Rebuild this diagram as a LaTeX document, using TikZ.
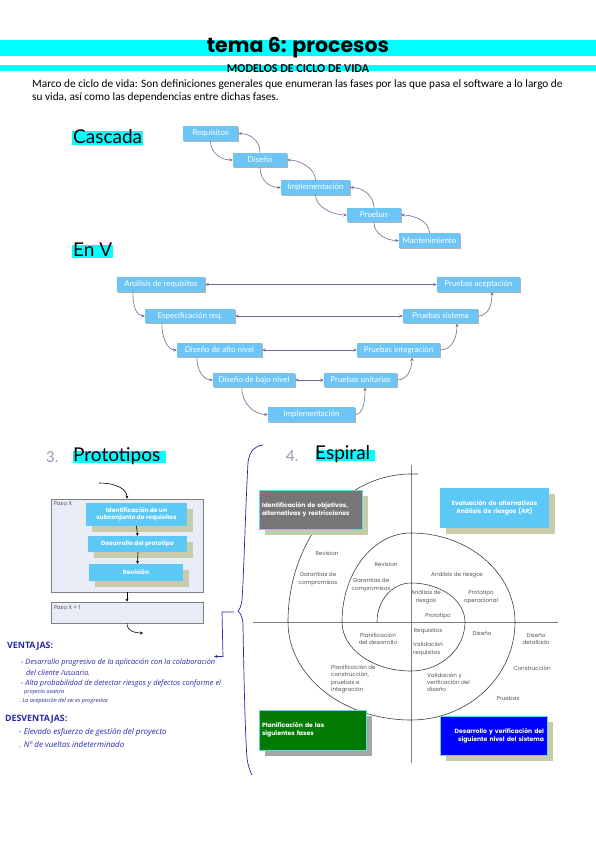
\documentclass[tikz,border=0pt]{standalone}
\usepackage{fontspec}
\setmainfont{Carlito}
\newfontfamily\gill{Lato}
\newfontfamily\titlef{Poppins}
\newfontfamily\gothic{Poppins}
\newfontfamily\hand{Open Sans}
\usetikzlibrary{arrows.meta,shadows}
\definecolor{hlcyan}{RGB}{0,255,255}
\definecolor{boxblue}{RGB}{108,197,244}
\definecolor{arrowc}{RGB}{105,110,150}
\definecolor{protblue}{RGB}{92,200,246}
\definecolor{khaki}{RGB}{200,202,170}
\definecolor{pasofill}{RGB}{231,236,246}
\definecolor{pasoborder}{RGB}{128,128,128}
\definecolor{spgray}{RGB}{118,118,118}
\definecolor{spborder}{RGB}{100,215,225}
\definecolor{spgreen}{RGB}{3,122,3}
\definecolor{spblue}{RGB}{0,0,255}
\definecolor{labgray}{RGB}{85,85,85}
\definecolor{numgray}{RGB}{140,155,175}
\definecolor{handblue}{RGB}{40,40,170}
\definecolor{axisgray}{RGB}{125,125,125}
\tikzset{
 casbox/.style={fill=boxblue, text=white, font=\gill\fontsize{8}{9}\selectfont, inner sep=0pt, minimum height=14.5pt,
   drop shadow={shadow xshift=1pt,shadow yshift=-1.2pt,fill=black,opacity=.3}},
 arr/.style={draw=arrowc, line width=0.6pt, -{Stealth[length=3.5pt,width=3pt]}},
 darr/.style={draw=arrowc, line width=0.6pt, {Stealth[length=3.5pt,width=3pt]}-{Stealth[length=3.5pt,width=3pt]}},
 seclab/.style={font=\gill\fontsize{19}{22}\selectfont, anchor=base west, inner sep=0pt},
 numlab/.style={font=\gill\fontsize{15}{18}\selectfont, text=numgray, anchor=base west, inner sep=0pt},
 protbox/.style={fill=protblue, text=white, font=\gothic\bfseries\fontsize{6}{7.5}\selectfont, align=center, inner sep=0pt,
   drop shadow={shadow xshift=6pt, shadow yshift=-6pt, fill=khaki, opacity=1}},
 pasobox/.style={draw=pasoborder, fill=pasofill, line width=0.8pt, inner sep=0pt},
 pasolab/.style={font=\gothic\fontsize{5.5}{7}\selectfont, text=labgray, anchor=north west, inner sep=0pt},
 parr/.style={draw=black, line width=0.6pt, -{Stealth[length=3pt,width=3pt]}},
 spbox/.style={text=white, font=\gothic\bfseries\fontsize{6.1}{8}\selectfont, inner sep=3pt, line width=0.8pt},
 slab/.style={font=\gothic\fontsize{5.6}{7.2}\selectfont, text=labgray, inner sep=0pt, align=center},
 axisline/.style={draw=axisgray, line width=0.9pt},
 spir/.style={draw=black!75, line width=0.6pt},
 hand/.style={font=\hand\itshape\fontsize{7.4}{8.5}\selectfont, text=handblue, anchor=west, inner sep=0pt},
 handhead/.style={font=\hand\bfseries\fontsize{8.8}{10}\selectfont, text=handblue, anchor=west, inner sep=0pt},
 handline/.style={draw=handblue, line width=0.7pt},
}
\begin{document}
\begin{tikzpicture}[x=1pt,y=-1pt]
\useasboundingbox (0,0) rectangle (596,848);
\fill[white] (0,0) rectangle (596,848);

% ---------- header ----------
\fill[hlcyan] (0,40.5) rectangle (596,56.5);
\fill[hlcyan] (0,65) rectangle (596,71.5);
\node[font=\titlef\bfseries\fontsize{20.5}{22}\selectfont, inner sep=0pt] (title) at (298,48) {tema 6: procesos};
\node[font=\bfseries\fontsize{12}{14}\selectfont, inner sep=0pt] (subtitle) at (298,68.5) {MODELOS DE CICLO DE VIDA};
\node[anchor=base west, inner sep=0pt, font=\fontsize{11.3}{13}\selectfont] (intro1) at (32,87.5)
  {Marco de ciclo de vida: Son definiciones generales que enumeran las fases por las que pasa el software a lo largo de};
\node[anchor=base west, inner sep=0pt, font=\fontsize{11.3}{13}\selectfont] (intro2) at (32,101)
  {su vida, así como las dependencias entre dichas fases.};

% ---------- Cascada ----------
\fill[hlcyan] (72,131) rectangle (143,145);
\node[seclab] (lcas) at (73,143) {Cascada};

\node[casbox, minimum width=55pt] (req) at (210.5,133.5) {Requisitos};
\node[casbox, minimum width=54pt] (dis) at (260,160) {Diseño};
\node[casbox, minimum width=69pt] (imp) at (315.5,187.5) {Implementación};
\node[casbox, minimum width=54pt] (pru) at (374,215) {Pruebas};
\node[casbox, minimum width=61pt] (man) at (429.5,240.5) {Mantenimiento};

\draw[arr] (req.south) .. controls +(0,12) and +(-12,0) .. (dis.west);
\draw[arr] (dis.north) .. controls +(0,-12) and +(12,0) .. (req.east);
\draw[arr] (dis.south) .. controls +(0,12) and +(-12,0) .. (imp.west);
\draw[arr] (imp.north) .. controls +(0,-12) and +(12,0) .. (dis.east);
\draw[arr] (imp.south) .. controls +(0,12) and +(-14,0) .. (pru.west);
\draw[arr] (pru.north) .. controls +(0,-12) and +(12,0) .. (imp.east);
\draw[arr] (pru.south) .. controls +(0,12) and +(-12,0) .. (man.west);
\draw[arr] (man.north) .. controls +(0,-12) and +(12,0) .. (pru.east);

% ---------- En V ----------
\fill[hlcyan] (72,245) rectangle (113,258);
\node[seclab] (lenv) at (73,256) {En V};

\node[casbox, minimum width=88pt] (ana) at (161,284.5) {Análisis de requisitos};
\node[casbox, minimum width=83pt] (pac) at (478.5,284.5) {Pruebas aceptación};
\node[casbox, minimum width=90pt] (esp) at (190,316) {Especificación req.};
\node[casbox, minimum width=75pt] (psi) at (440.5,316) {Pruebas sistema};
\node[casbox, minimum width=85pt] (dal) at (219.5,350) {Diseño de alto nivel};
\node[casbox, minimum width=83pt] (pin) at (398.5,350) {Pruebas integración};
\node[casbox, minimum width=82pt] (dba) at (254,380) {Diseño de bajo nivel};
\node[casbox, minimum width=73pt] (pun) at (360.5,380) {Pruebas unitarias};
\node[casbox, minimum width=87pt] (vim) at (311.5,414.5) {Implementación};

\draw[darr] (ana.east) -- (pac.west);
\draw[darr] (esp.east) -- (psi.west);
\draw[darr] (dal.east) -- (pin.west);
\draw[darr] (dba.east) -- (pun.west);

\draw[arr] ([xshift=16pt]ana.south west) .. controls +(0,15) and +(-8,0) .. (esp.west);
\draw[arr] ([xshift=17pt]esp.south west) .. controls +(0,15) and +(-9,0) .. (dal.west);
\draw[arr] ([xshift=20pt]dal.south west) .. controls +(0,13) and +(-9,0) .. (dba.west);
\draw[arr] ([xshift=29pt]dba.south west) .. controls +(0,16) and +(-14,0) .. (vim.west);
\draw[arr] (vim.east) .. controls +(8,0) and +(0,14) .. ([xshift=4.5pt]pun.south);
\draw[arr] (pun.east) .. controls +(10,0) and +(0,12) .. ([xshift=13.5pt]pin.south);
\draw[arr] (pin.east) .. controls +(12,0) and +(0,14) .. ([xshift=16.5pt]psi.south);
\draw[arr] (psi.east) .. controls +(10,0) and +(0,13) .. ([xshift=13.5pt]pac.south);

% ---------- Prototipos ----------
\node[numlab] (n3) at (46,462) {3.};
\fill[hlcyan] (73,451) rectangle (166,463);
\node[seclab] (lprot) at (73,461) {Prototipos};

\node[pasobox, minimum width=152pt, minimum height=93pt] (pasox) at (127,545.5) {};
\node[pasolab] (pasoxl) at ([shift={(3,3)}]pasox.north west) {Paso X};
\node[pasobox, minimum width=152pt, minimum height=21pt] (pasox1) at (127,612.5) {};
\node[pasolab] (pasox1l) at ([shift={(3,4)}]pasox1.north west) {Paso X + 1};

\node[protbox, minimum width=101pt, minimum height=23pt] (pb1) at (136.5,514.5) {Identificación de un\\subconjunto de requisitos};
\node[protbox, minimum width=99pt, minimum height=16pt] (pb2) at (137.5,544) {Desarrollo del prototipo};
\node[protbox, minimum width=94pt, minimum height=17pt] (pb3) at (136,572.5) {Revisión};

\draw[parr] (pb1.south) -- (pb2.north);
\draw[parr] ([xshift=0.5pt]pb2.south) -- ([xshift=1.5pt]pb3.north);
\draw[parr] (pasox.south) -- (pasox1.north);
\coordinate (pin0) at (99,483);
\coordinate (pout) at (143,633);
\draw[parr] (pin0) .. controls +(18,0) and +(0,-9) .. (pasox.north);
\draw[parr] (pasox1.south) .. controls +(0,8) and +(-8,0) .. (pout);

% ---------- Espiral ----------
\node[numlab] (n4) at (286,461) {4.};
\fill[hlcyan] (316,450) rectangle (375,461);
\node[seclab] (lesp) at (315,459) {Espiral};

\draw[axisline] (411,465) -- (411,763);
\draw[axisline] (253,622) -- (558,622);

\draw[spir] (418,474) -- (411,474)
  arc[start angle=270, end angle=180, x radius=123, y radius=148]
  arc[start angle=180, end angle=90, x radius=123, y radius=98]
  arc[start angle=90, end angle=0, x radius=104, y radius=98]
  arc[start angle=360, end angle=270, x radius=104, y radius=89]
  arc[start angle=270, end angle=180, x radius=69, y radius=89]
  arc[start angle=180, end angle=90, x radius=69, y radius=49]
  arc[start angle=90, end angle=0, x radius=54, y radius=49]
  arc[start angle=360, end angle=270, x radius=54, y radius=39]
  arc[start angle=270, end angle=180, x radius=34, y radius=39];

\node[spbox, fill=spgray, draw=spborder, minimum width=103pt, minimum height=39pt, text width=97pt, align=left,
  drop shadow={shadow xshift=6pt, shadow yshift=-6pt, fill=khaki, opacity=1}] (sq1) at (310.5,509.5)
  {Identificación de objetivos,\\alternativas y restricciones};
\node[spbox, fill=protblue, minimum width=109pt, minimum height=40pt, text width=103pt, align=center,
  drop shadow={shadow xshift=6pt, shadow yshift=-6pt, fill=khaki, opacity=1}] (sq2) at (494.5,508)
  {Evaluación de alternativas\\Análisis de riesgos (AR)};
\node[spbox, fill=spgreen, draw=spborder, minimum width=107pt, minimum height=40pt, text width=101pt, align=left,
  drop shadow={shadow xshift=6pt, shadow yshift=-6pt, fill=black!35, opacity=1}] (sq3) at (312.5,730)
  {Planificación de las\\siguientes fases};
\node[spbox, fill=spblue, draw=spborder, minimum width=107pt, minimum height=39pt, text width=101pt, align=right,
  drop shadow={shadow xshift=6pt, shadow yshift=-6pt, fill=khaki, opacity=1}] (sq4) at (493.5,735.5)
  {Desarrollo y verificación del\\siguiente nivel del sistema};

\node[slab] (s1) at (327,553) {Revision};
\node[slab] (s2) at (386,564.5) {Revision};
\node[slab] (s3) at (318,579) {Garantías de\\compromisos};
\node[slab] (s4) at (371,585) {Garantías de\\compromisos};
\node[slab] (s5) at (457,575) {Análisis de riesgos};
\node[slab] (s6) at (426,597) {Análisis de\\riesgos};
\node[slab] (s7) at (481,597) {Prototipo\\operacional};
\node[slab] (s8) at (438,616) {Prototipo};
\node[slab] (s9) at (428,631) {Requisitos};
\node[slab, anchor=west, align=left] (s10) at (413,649) {Validación\\requisitos};
\node[slab] (s11) at (482,633) {Diseño};
\node[slab] (s12) at (536,639) {Diseño\\detallado};
\node[slab] (s13) at (378,639) {Planificación\\del desarrollo};
\node[slab] (s14) at (532,668.5) {Construcción};
\node[slab, anchor=north west, align=left] (s15) at (331,665) {Planificación de\\construcción,\\pruebas e\\integración};
\node[slab, anchor=north west, align=left] (s16) at (427,672.5) {Validación y\\verificación del\\diseño};
\node[slab] (s17) at (508,698) {Pruebas};

% ---------- handwritten brace and notes ----------
\draw[handline] (263,445) .. controls (255,446) and (250,450) .. (248,462)
  .. controls (245,520) and (244,570) .. (242,600)
  .. controls (241,606) and (240,609) .. (238,611)
  .. controls (241,614) and (243,618) .. (243,626)
  .. controls (244,680) and (245,730) .. (247,758)
  .. controls (248,766) and (250,771) .. (252,775);
\coordinate (bcusp) at (234,612);
\coordinate (vtip) at (214,656.5);
\draw[handline, -{Stealth[length=3.5pt,width=3pt]}] (bcusp) -- (222,612) -- (223,656.5) -- (vtip);

\node[handhead] (vent) at (7,646) {VENTAJAS:};
\node[hand] (v1) at (21,663) {- Desarrollo progresivo de la aplicación con la colaboración};
\node[hand] (v1b) at (26,673) {del cliente /usuario.};
\node[hand] (v2) at (21,683.5) {- Alta probabilidad de detectar riesgos y defectos conforme el};
\node[hand, font=\hand\itshape\fontsize{5.5}{6.5}\selectfont] (v2b) at (24,692.5) {proyecto avanza};
\node[hand, font=\hand\itshape\fontsize{5.6}{6.5}\selectfont] (v3) at (19,701.5) {. La aceptación del sw es progresiva};
\node[handhead] (desv) at (5,719) {DESVENTAJAS:};
\node[hand, font=\hand\itshape\fontsize{8}{9}\selectfont] (d1) at (19,732.5) {- Elevado esfuerzo de gestión del proyecto};
\node[hand, font=\hand\itshape\fontsize{8}{9}\selectfont] (d2) at (19,745) {. Nº de vueltas indeterminado};
\end{tikzpicture}
\end{document}
